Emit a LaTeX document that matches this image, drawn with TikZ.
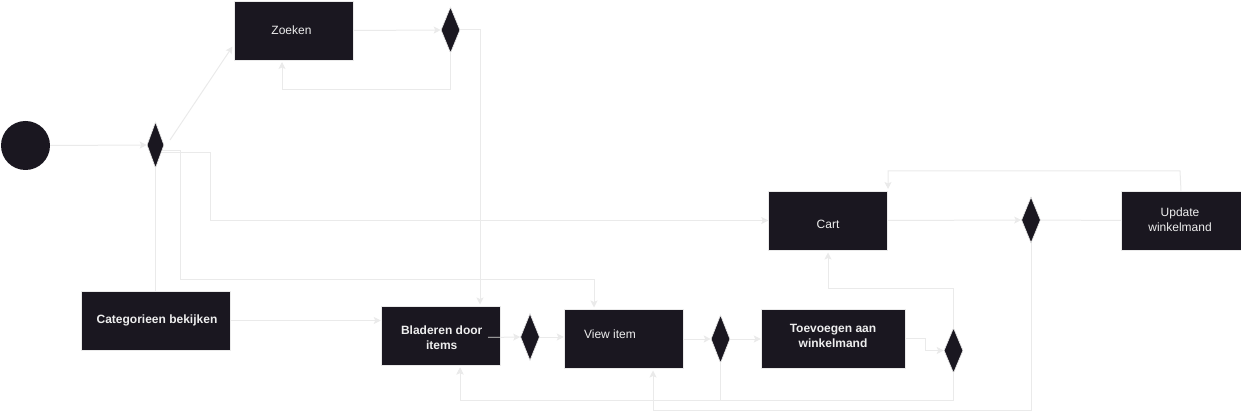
\documentclass[tikz,border=0pt]{standalone}
\usepackage{fontspec}
\newfontfamily\lab{Liberation Sans}
\usetikzlibrary{shapes.geometric,arrows.meta,calc}
\definecolor{boxc}{RGB}{26,23,32}
\definecolor{linec}{RGB}{234,234,234}
\definecolor{txtc}{RGB}{238,238,238}
\begin{document}
\begin{tikzpicture}[x=1pt,y=-1pt,
  act/.style={rectangle, fill=boxc, draw=linec, line width=0.5pt, inner sep=0pt},
  lbl/.style={text=txtc, font=\lab\fontsize{12}{15}\selectfont, align=center, inner sep=0pt},
  lblb/.style={lbl, font=\lab\bfseries\fontsize{12}{15}\selectfont},
  dec/.style={diamond, fill=boxc, draw=linec, line width=0.6pt, inner sep=0pt},
  conn/.style={draw=linec, line width=1pt},
  arr/.style={conn, -{Stealth[length=7pt,width=7pt,inset=1.5pt]}}]
\useasboundingbox (0,0) rectangle (1241,419);
% nodes
\node[circle, fill=boxc, minimum size=49pt, inner sep=0pt] (start) at (25.5,145.5) {};
\node[dec, minimum width=17pt, minimum height=46pt] (d1) at (155.5,145) {};
\node[act, minimum width=119pt, minimum height=59pt] (zoek) at (293.5,30.5) {};
\node[dec, minimum width=19pt, minimum height=46pt] (d2) at (450.5,30) {};
\node[act, minimum width=149pt, minimum height=59pt] (cat) at (155.5,320.5) {};
\node[act, minimum width=119pt, minimum height=59pt] (blad) at (440.5,335.5) {};
\node[dec, minimum width=19pt, minimum height=47pt] (d3) at (530,337) {};
\node[act, minimum width=119pt, minimum height=59pt] (view) at (623.5,338.5) {};
\node[dec, minimum width=19pt, minimum height=48pt] (d4) at (720.5,339) {};
\node[act, minimum width=144pt, minimum height=59pt] (toev) at (833,338.5) {};
\node[dec, minimum width=19pt, minimum height=45pt] (d5) at (953.5,350.5) {};
\node[act, minimum width=119pt, minimum height=59pt] (cart) at (828,220.5) {};
\node[dec, minimum width=19pt, minimum height=46pt] (d6) at (1031,220) {};
\node[act, minimum width=120pt, minimum height=59pt] (upd) at (1181,220.5) {};
% texts
\node[lbl, anchor=base] (zoekt) at (291.5,34.3) {Zoeken};
\node[lblb, anchor=base] (catt) at (157,323.6) {Categorieen bekijken};
\node[lblb] (bladt) at (441.7,338.2) {Bladeren door\\items};
\node[lbl, anchor=base] (viewt) at (610,338.6) {View item};
\node[lblb] (toevt) at (833,335.5) {Toevoegen aan\\winkelmand};
\node[lbl, anchor=base] (cartt) at (828,228.3) {Cart};
\node[lbl] (updt) at (1180,220) {Update\\winkelmand};
% helper coordinates
\coordinate (d1up) at (170,140);
\coordinate (zkin) at (232.5,46.5);
\coordinate (zkb) at (282,62);
\coordinate (bladtop) at (480,304.5);
\coordinate (d1r1) at (162,151);
\coordinate (d1r2) at (162,152.5);
\coordinate (viewtop) at (594,307.5);
\coordinate (bladx) at (488,337.5);
\coordinate (bladb) at (460,367.5);
\coordinate (viewb) at (653,370.5);
\coordinate (cartb) at (828,252.5);
\coordinate (cartt) at (888,189);
% connectors
\draw[arr] (start.east) -- (d1.west);
\draw[arr] (d1up) -- (zkin);
\draw[arr] (zoek.east) -- (d2.west);
\draw[arr] (d2.south) -- (450.5,90) -| (zkb);
\draw[arr] (d2.east) -- (480,30) -- (bladtop);
\draw[arr] (d1r1) -- (180,151) -- (180,280) -| (viewtop);
\draw[arr] (d1r2) -- (210,152.5) |- (cart.west);
\draw[conn] (d1.south) -- (cat.north);
\draw[arr] (cat.east) -- (blad.west |- cat.east);
\draw[arr] (bladx) -- (d3.west);
\draw[draw={rgb,255:red,150;green,150;blue,150}, line width=1pt] (bladx) -- (blad.east |- bladx);
\draw[arr] (d3.east) -- (view.west |- d3.east);
\draw[arr] (view.east |- d4.west) -- (d4.west);
\draw[arr] (d4.east) -- (toev.west |- d4.east);
\draw[arr] (d4.south) -- (720.5,400) -| (bladb);
\draw[arr] (d5.south) -- (953.5,400) -| (bladb);
\draw[arr] (d6.south) -- (1031,410) -| (viewb);
\draw[arr] (toev.east |- 0,338.3) -- (925,338.3) |- (d5.west);
\draw[arr] (d5.north) -- (953.5,288.3) -| (cartb);
\draw[arr] (cart.east) -- (d6.west);
\draw[conn] (d6.east) -- (upd.west);
\draw[arr] (upd.north) -- (1180,171) -| (cartt);
\end{tikzpicture}
\end{document}
